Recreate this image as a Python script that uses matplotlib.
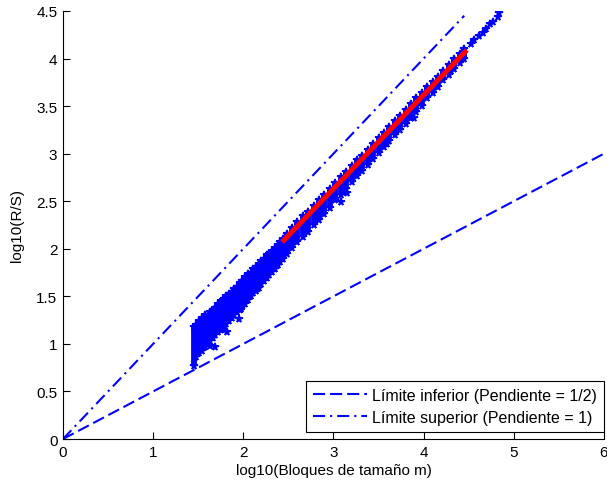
import matplotlib
matplotlib.use("Agg")
import matplotlib.pyplot as plt
import numpy as np

plt.rcParams['font.family'] = ['Liberation Sans', 'DejaVu Sans']

# columns of the R/S cloud: block size (log10), lowest and highest log10(R/S)
col_x = [1.45, 1.48, 1.51, 1.54, 1.57, 1.60, 1.63, 1.66, 1.69, 1.72,
         1.75, 1.78, 1.81, 1.84, 1.87, 1.90, 1.93, 1.96, 1.99, 2.02,
         2.05, 2.08, 2.11, 2.14, 2.17, 2.20, 2.23, 2.26, 2.29, 2.32,
         2.35, 2.38, 2.41, 2.44,
         2.48, 2.54, 2.60, 2.66, 2.72, 2.78, 2.84, 2.90, 2.96, 3.02,
         3.08, 3.14, 3.20, 3.26, 3.32, 3.38, 3.44, 3.50, 3.56, 3.62,
         3.68, 3.74, 3.80, 3.86, 3.92, 3.98, 4.04, 4.10, 4.16, 4.22,
         4.28, 4.34, 4.40, 4.45]
col_lo = [0.77, 0.86, 0.90, 0.93, 0.97, 1.00, 1.03, 1.06, 1.09, 1.12,
          1.15, 1.18, 1.21, 1.24, 1.27, 1.30, 1.33, 1.36, 1.39, 1.42,
          1.46, 1.50, 1.53, 1.56, 1.59, 1.63, 1.66, 1.69, 1.72, 1.76,
          1.79, 1.83, 1.86, 1.89,
          1.95, 2.01, 2.07, 2.12, 2.18, 2.25, 2.30, 2.37, 2.43, 2.51,
          2.57, 2.63, 2.70, 2.76, 2.82, 2.88, 2.94, 3.01, 3.07, 3.13,
          3.20, 3.25, 3.31, 3.37, 3.44, 3.50, 3.58, 3.64, 3.70, 3.77,
          3.83, 3.89, 3.95, 4.00]
col_hi = [1.18, 1.20, 1.24, 1.27, 1.30, 1.28, 1.33, 1.36, 1.38, 1.42,
          1.45, 1.46, 1.50, 1.52, 1.55, 1.58, 1.60, 1.64, 1.66, 1.70,
          1.73, 1.75, 1.79, 1.81, 1.84, 1.87, 1.89, 1.93, 1.95, 1.98,
          2.01, 2.04, 2.07, 2.10,
          2.16, 2.22, 2.28, 2.34, 2.39, 2.45, 2.51, 2.57, 2.63, 2.69,
          2.75, 2.81, 2.87, 2.93, 2.98, 3.04, 3.10, 3.16, 3.22, 3.28,
          3.34, 3.40, 3.46, 3.52, 3.58, 3.64, 3.70, 3.75, 3.81, 3.87,
          3.93, 3.99, 4.05, 4.10]

# scattered points away from the main cloud
out_x = [1.63, 1.69, 1.77, 1.82, 1.95, 1.97, 2.15, 2.19, 2.26, 2.70,
         3.08, 3.15, 3.59, 3.89, 4.30,
         4.52, 4.56, 4.61, 4.66, 4.69, 4.74, 4.77, 4.83, 4.84]
out_y = [0.98, 0.97, 1.16, 1.12, 1.26, 1.37, 1.58, 1.66, 1.72, 2.20,
         2.49, 2.59, 3.10, 3.38, 3.87,
         4.15, 4.19, 4.24, 4.27, 4.31, 4.36, 4.38, 4.44, 4.48]

# fitted line
fit_x = [2.43, 4.48]
fit_y = [2.07, 4.09]

# bounds
low_x = [0, 6]
up_x = [0, 4.45]

fig = plt.figure(figsize=(6.07, 4.89), dpi=100)
ax = fig.add_axes([0.1038, 0.1002, 0.8912, 0.8753])

blue = '#0000ff'
ax.vlines(col_x, col_lo, col_hi, colors=blue, linewidth=4.2)
ax.plot(col_x, col_lo, '*', color=blue, ms=5.5, mew=1.2, ls='none')
ax.plot(col_x, col_hi, '*', color=blue, ms=5.5, mew=1.2, ls='none')
ax.plot(out_x, out_y, '*', color=blue, ms=5.5, mew=1.2, ls='none')

ax.plot(fit_x, fit_y, '-', color='#ff0000', lw=3.6, solid_capstyle='butt')

l1, = ax.plot(low_x, np.array(low_x) * 0.5, color=blue, lw=1.5,
              dashes=(5.8, 2.4), label='Límite inferior (Pendiente = 1/2)')
l2, = ax.plot(up_x, np.array(up_x) * 1.0, color=blue, lw=1.5,
              dashes=(5.8, 2.4, 1.0, 2.4), label='Límite superior (Pendiente = 1)')

ax.set_xlim(0, 6)
ax.set_ylim(0, 4.5)
ax.set_xticks([0, 1, 2, 3, 4, 5, 6])
ax.set_yticks([0, 0.5, 1, 1.5, 2, 2.5, 3, 3.5, 4, 4.5])
ax.set_yticklabels(['0', '0.5', '1', '1.5', '2', '2.5', '3', '3.5', '4', '4.5'])
ax.spines['top'].set_visible(False)
ax.spines['right'].set_visible(False)
ax.tick_params(direction='in', length=5, labelsize=11, width=0.8, pad=4)

ax.set_xlabel('log10(Bloques de tamaño m)', fontsize=11, labelpad=3)
ax.set_ylabel('log10(R/S)', fontsize=11, labelpad=9)

leg = ax.legend(handles=[l1, l2], loc='lower right', bbox_to_anchor=(1.0, 0.016),
                borderaxespad=0, fancybox=False, framealpha=1, fontsize=11.5,
                handlelength=3.4, handletextpad=0.3, borderpad=0.45,
                labelspacing=0.45)
leg.get_frame().set_edgecolor('k')
leg.get_frame().set_linewidth(0.8)

fig.savefig('out.png', dpi=100)
